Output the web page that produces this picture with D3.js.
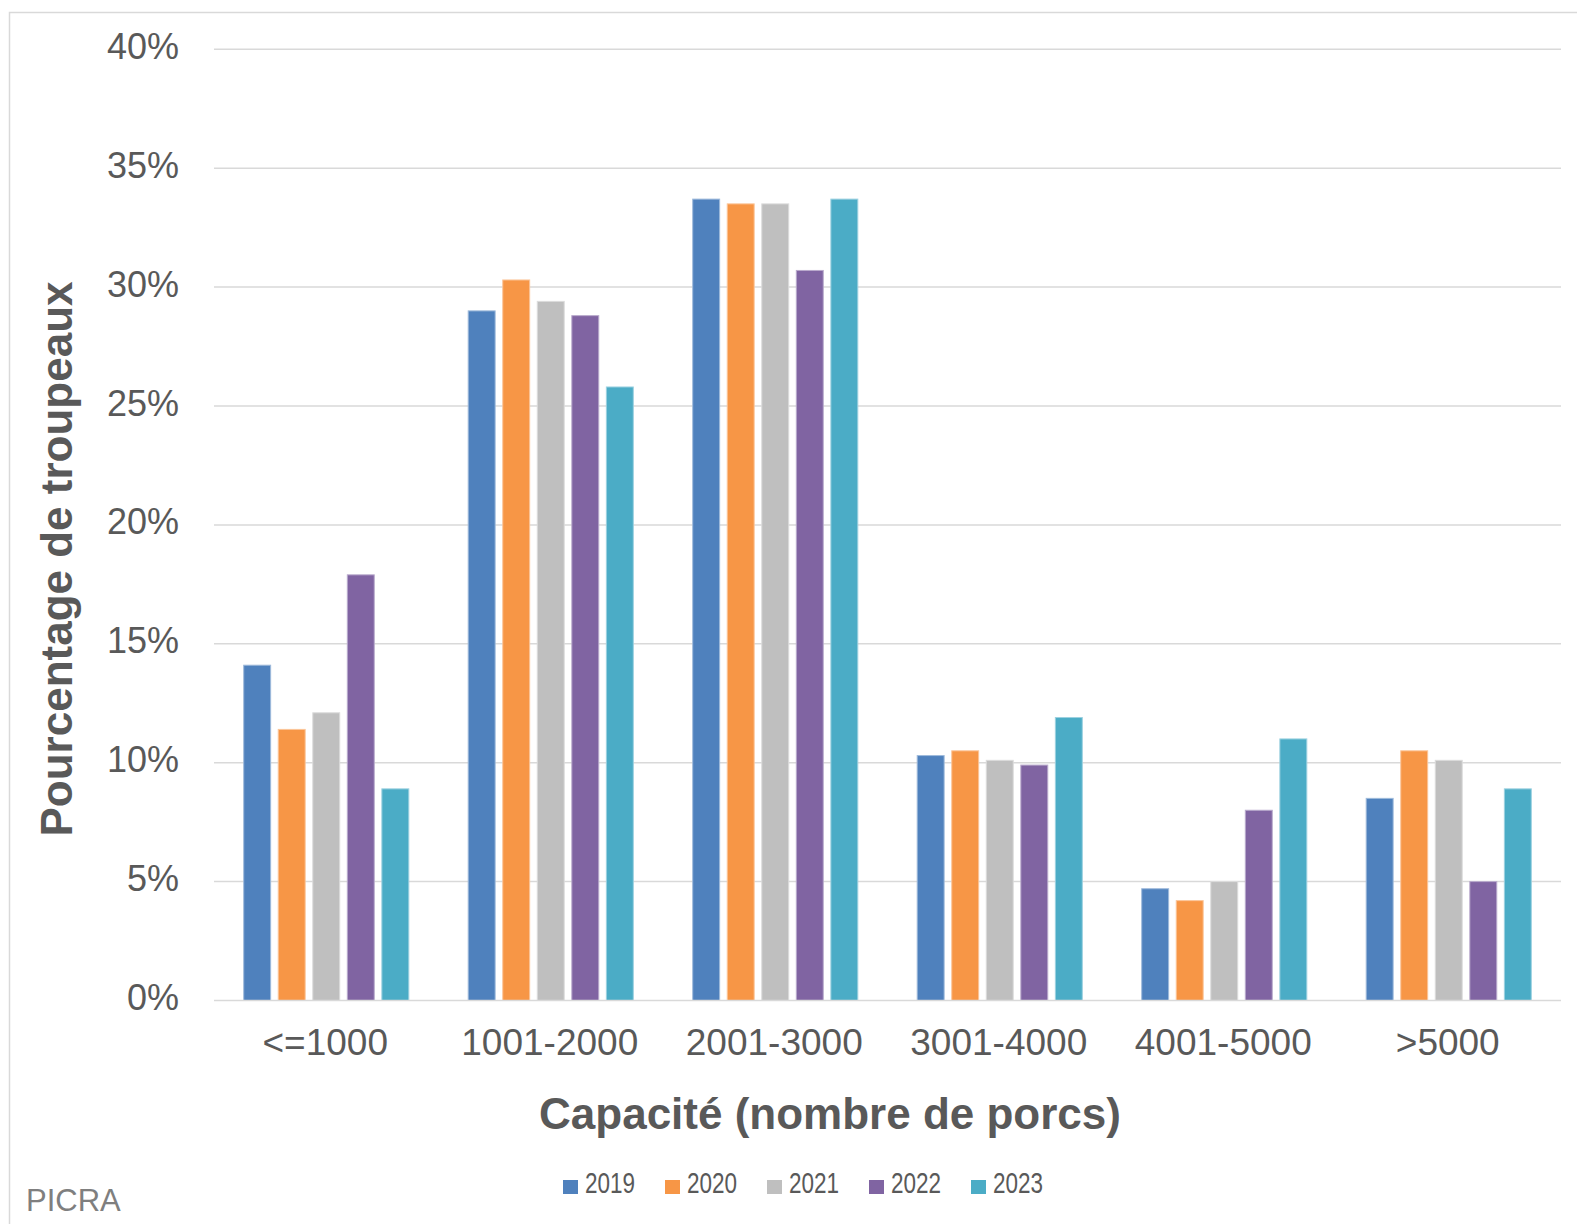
<!DOCTYPE html>
<html>
<head>
<meta charset="utf-8">
<script src="https://cdn.jsdelivr.net/npm/d3@7"></script>
<style>
  html, body { margin: 0; padding: 0; background: #ffffff; }
  svg { display: block; }
  text { font-family: "Liberation Sans", Arial, sans-serif; }
</style>
</head>
<body>
<svg id="chart" width="1577" height="1224"></svg>
<script>
// Herd-size classes (x axis) and survey years (series)
const categories = ["<=1000", "1001-2000", "2001-3000", "3001-4000", "4001-5000", ">5000"];
const years = ["2019", "2020", "2021", "2022", "2023"];

// Share of herds (%) in each capacity class, one array per year
const v2019 = [14.1, 29.0, 33.7, 10.3, 4.7, 8.5];
const v2020 = [11.4, 30.3, 33.5, 10.5, 4.2, 10.5];
const v2021 = [12.1, 29.4, 33.5, 10.1, 5.0, 10.1];
const v2022 = [17.9, 28.8, 30.7, 9.9, 8.0, 5.0];
const v2023 = [8.9, 25.8, 33.7, 11.9, 11.0, 8.9];

const yTicks = [0, 5, 10, 15, 20, 25, 30, 35, 40];
const yTickLabels = ["0%", "5%", "10%", "15%", "20%", "25%", "30%", "35%", "40%"];

const seriesValues = [v2019, v2020, v2021, v2022, v2023];
const colors = ["#4F81BD", "#F79646", "#BFBFBF", "#8064A2", "#4BACC6"];

const svg = d3.select("#chart");
const textColor = "#595959";
const gridColor = "#d9d9d9";

// Outer chart frame (left and top edges visible)
svg.append("path")
  .attr("d", "M9.5,1224 V12.5 H1577")
  .attr("fill", "none")
  .attr("stroke", "#d9d9d9")
  .attr("stroke-width", 1.5);

const plot = { left: 214, right: 1561, top: 49.3, bottom: 1000.5 };

const x0 = d3.scaleBand()
  .domain(categories)
  .range([plot.left, plot.right])
  .padding(0);

const x1 = d3.scaleBand()
  .domain(years)
  .range([0, x0.bandwidth()])
  .paddingInner(0.22)
  .paddingOuter(0.86);

const y = d3.scaleLinear()
  .domain([0, 40])
  .range([plot.bottom, plot.top]);

// Horizontal gridlines
svg.append("g")
  .selectAll("line")
  .data(yTicks.filter(t => t > 0))
  .join("line")
  .attr("x1", plot.left)
  .attr("x2", plot.right)
  .attr("y1", d => y(d))
  .attr("y2", d => y(d))
  .attr("stroke", gridColor)
  .attr("stroke-width", 1.5);

// Y tick labels
svg.append("g")
  .selectAll("text")
  .data(yTicks)
  .join("text")
  .attr("x", 179)
  .attr("y", d => y(d) + 9.5)
  .attr("text-anchor", "end")
  .attr("font-size", 36)
  .attr("fill", textColor)
  .text((d, i) => yTickLabels[i]);

// Bars
const groups = svg.append("g")
  .selectAll("g")
  .data(categories)
  .join("g")
  .attr("transform", d => `translate(${x0(d)},0)`);

groups.selectAll("rect")
  .data((c, ci) => years.map((yr, si) => ({ year: yr, value: seriesValues[si][ci], color: colors[si] })))
  .join("rect")
  .attr("x", d => x1(d.year))
  .attr("y", d => y(d.value))
  .attr("width", x1.bandwidth())
  .attr("height", d => y(0) - y(d.value))
  .attr("fill", d => d.color)
  .attr("stroke", d => d3.interpolateRgb(d.color, "#ffffff")(0.45))
  .attr("stroke-width", 1);

// Category axis line
svg.append("line")
  .attr("x1", plot.left)
  .attr("x2", plot.right)
  .attr("y1", y(0))
  .attr("y2", y(0))
  .attr("stroke", gridColor)
  .attr("stroke-width", 1.5);

// Category labels
svg.append("g")
  .selectAll("text")
  .data(categories)
  .join("text")
  .attr("x", d => x0(d) + x0.bandwidth() / 2 - 1)
  .attr("y", 1055)
  .attr("text-anchor", "middle")
  .attr("font-size", 37)
  .attr("fill", textColor)
  .text(d => d);

// Axis titles
svg.append("text")
  .attr("x", 830)
  .attr("y", 1129)
  .attr("text-anchor", "middle")
  .attr("font-size", 44)
  .attr("font-weight", "bold")
  .attr("fill", textColor)
  .text("Capacité (nombre de porcs)");

svg.append("text")
  .attr("transform", "translate(72,559) rotate(-90)")
  .attr("text-anchor", "middle")
  .attr("font-size", 44)
  .attr("font-weight", "bold")
  .attr("fill", textColor)
  .text("Pourcentage de troupeaux");

// Legend
const legendX = d3.scaleLinear().domain([0, years.length - 1]).range([563, 971]);
const legend = svg.append("g")
  .selectAll("g")
  .data(years)
  .join("g")
  .attr("transform", (d, i) => `translate(${legendX(i)},0)`);

legend.append("rect")
  .attr("x", 0)
  .attr("y", 1180)
  .attr("width", 15)
  .attr("height", 14)
  .attr("fill", (d, i) => colors[i]);

legend.append("text")
  .attr("transform", "translate(22,1193) scale(0.75,1)")
  .attr("font-size", 30)
  .attr("fill", textColor)
  .text(d => d);

// Source note
svg.append("text")
  .attr("x", 26)
  .attr("y", 1211)
  .attr("font-size", 31)
  .attr("fill", "#7f7f7f")
  .text("PICRA");
</script>
</body>
</html>
